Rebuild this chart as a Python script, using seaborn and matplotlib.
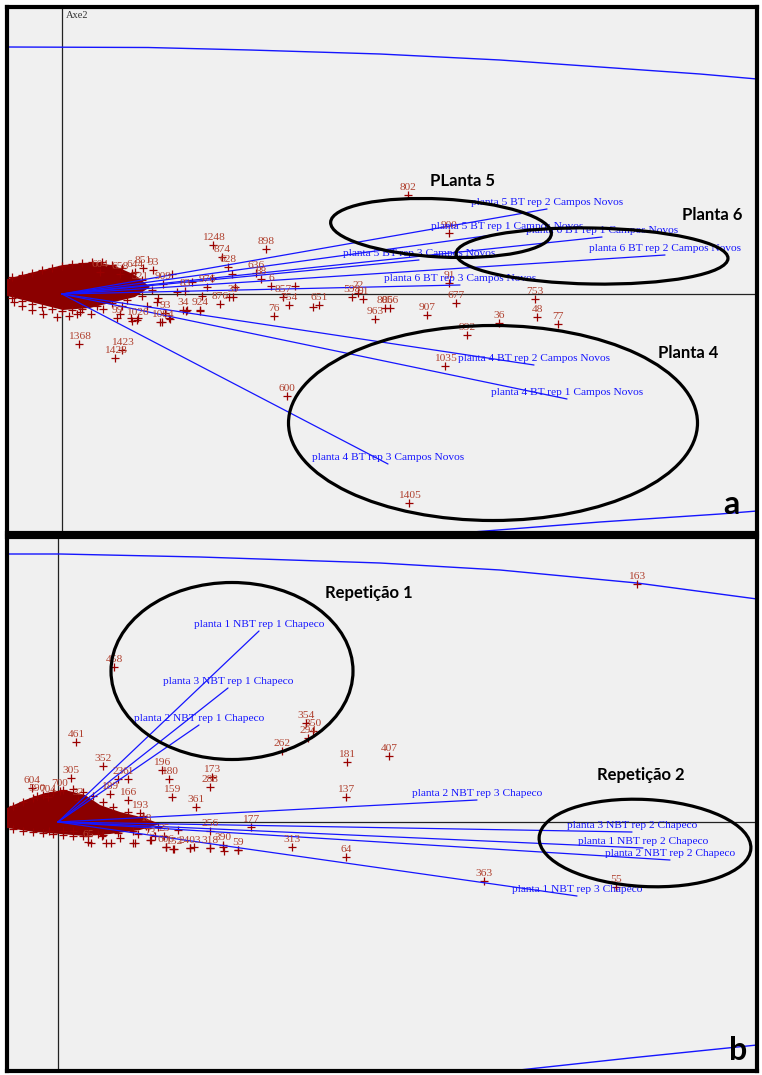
import matplotlib.pyplot as plt
import seaborn as sns
import pandas as pd
from matplotlib.patches import Ellipse

# ---------------- panel a : BT Campos Novos ----------------
a_vec_names = ["planta 5 BT rep 2 Campos Novos", "planta 5 BT rep 1 Campos Novos",
               "planta 6 BT rep 1 Campos Novos", "planta 6 BT rep 2 Campos Novos",
               "planta 5 BT rep 3 Campos Novos", "planta 6 BT rep 3 Campos Novos",
               "planta 4 BT rep 2 Campos Novos", "planta 4 BT rep 1 Campos Novos",
               "planta 4 BT rep 3 Campos Novos"]
a_vec_x = [485, 445, 540, 603, 357, 398, 472, 505, 326]
a_vec_y = [85, 61, 57, 39, 34, 9, -71, -105, -170]

a_pt_labels = ["802", "900", "1248", "874", "628", "898", "636", "88", "6", "857", "754", "76",
               "651", "598", "22", "91", "806", "856", "963", "907", "677", "91", "753", "48",
               "36", "77", "992", "1035", "600", "1405", "851", "93", "909", "1368", "1423",
               "1428", "83", "976", "39", "876", "924", "34", "93", "1026", "99", "1084",
               "604", "658", "644", "321"]
a_pt_x = [346, 387, 151, 160, 166, 204, 194, 199, 209, 221, 227, 212, 257, 290, 296, 301,
          323, 328, 313, 365, 394, 387, 473, 475, 437, 496, 405, 383, 225, 347, 81, 91,
          101, 17, 60, 53, 123, 145, 171, 158, 138, 121, 103, 75, 55, 100, 38, 58, 73, 78]
a_pt_y = [99, 61, 49, 37, 27, 45, 21, 15, 8, -3, -11, -22, -11, -3, 1, -5, -14, -14, -25,
          -21, -9, 11, -5, -23, -29, -30, -41, -72, -102, -209, 26, 24, 10, -50, -56, -64,
          3, 7, -3, -10, -16, -16, -19, -26, -24, -28, 22, 20, 22, 10]

a_extra_x = [41, 69, 107, 125, 167, 173, 7, 18, -5, -19, 70, 76, 98, 108, 124, 138, 15, 58,
             29, -30, -40, -48, 115, 130, 140, 150, 110, 95, 85, 60, 251, 233, 170,
             -50, -40, -30, -20, -10, 0, 10, 20, 30, 40, 50, 60, 70, 80,
             -50, -40, -30, -20, -10, 0, 10, 20, 35, 50, 65, 80, 90, 96]
a_extra_y = [-15, -24, -24, -16, -3, 7, -22, -18, -23, -20, -27, -24, -28, -25, -17, -17,
             -20, -20, -20, -16, -12, -8, 2, 12, -2, 16, 20, -8, -12, -12, -13, 8, 20,
             17, 19, 21, 24, 26, 28, 30, 31, 32, 32, 29, 26, 21, 14,
             -4, -7, -10, -13, -15, -17, -16, -15, -12, -9, -6, -2, 4, -4]

a_blob_x = [-55, -32, 1, 33, 53, 73, 88, 73, 48, 28, 1, -27, -55]
a_blob_y = [15, 21, 29, 32, 28, 19, 7, -3, -9, -14, -16, -9, -2]

a_arc_x = [-55, 86, 188, 318, 438, 538, 638, 695]
a_arc_y = [247, 246.5, 244, 240, 234, 227, 220, 215]
a_low_x = [398, 538, 658, 695]
a_low_y = [-239, -228, -220, -217]

a_groups = ["PLanta 5", "Planta 6", "Planta 4"]

# ---------------- panel b : NBT Chapeco ----------------
b_vec_names = ["planta 1 NBT rep 1 Chapeco", "planta 3 NBT rep 1 Chapeco",
               "planta 2 NBT rep 1 Chapeco", "planta 2 NBT rep 3 Chapeco",
               "planta 3 NBT rep 2 Chapeco", "planta 1 NBT rep 2 Chapeco",
               "planta 2 NBT rep 2 Chapeco", "planta 1 NBT rep 3 Chapeco"]
b_vec_x = [201, 170, 141, 419, 574, 585, 612, 519]
b_vec_y = [191, 134, 97, 22, -10, -26, -38, -74]

b_pt_labels = ["163", "458", "461", "352", "305", "23", "61", "196", "180", "173", "288",
               "159", "361", "262", "354", "350", "294", "181", "407", "137", "177", "256",
               "313", "64", "363", "55", "604", "590", "704", "700", "32", "189", "166",
               "193", "65", "73", "606", "152", "2403", "318", "390", "59", "18", "25"]
b_pt_x = [579, 56, 18, 45, 13, 60, 70, 104, 111, 154, 152, 114, 138, 224, 248, 255, 250,
          289, 331, 288, 193, 152, 234, 288, 426, 558, -26, -21, -10, 2, 20, 52, 70, 82,
          30, 92, 108, 116, 132, 152, 165, 180, 88, 106]
b_pt_y = [238, 155, 80, 56, 44, 43, 43, 52, 43, 45, 35, 25, 15, 71, 99, 91, 84, 60, 66,
          25, -5, -9, -25, -35, -59, -65, 34, 26, 25, 31, 22, 28, 22, 9, -20, -18, -25,
          -27, -26, -26, -23, -28, -4, -14]

b_extra_x = [15, 33, 48, 53, 75, 77, 108, 115, 132, 136, 152, 165, 166, 180, 93, 97, 44,
             -9, 5, 62, 80, 120, 100, 40, 25,
             -45, -35, -25, -15, -5, 5, 15, 25, 35, 45, 55, 70, 85,
             -45, -35, -25, -15, -5, 5, 15, 30, 45, 60, 75, 90]
b_extra_y = [-9, -21, -21, -21, -21, -21, -25, -27, -26, -25, -26, -25, -29, -28, -18, -14,
             -14, -9, -9, -16, -12, -8, -5, -12, -14,
             16, 20, 24, 27, 30, 32, 33, 30, 26, 20, 15, 10, 6,
             -7, -9, -10, -11, -12, -13, -14, -14, -13, -11, -9, -6]

b_blob_x = [-51, -33, -13, 7, 27, 42, 62, 87, 102, 82, 52, 27, 2, -23, -51]
b_blob_y = [14, 22, 29, 32, 27, 17, 10, 4, -2, -8, -12, -14, -12, -10, -6]

b_arc_x = [-51, 2, 142, 322, 442, 579, 699]
b_arc_y = [268, 268, 265, 259, 252, 239, 223]
b_low_x = [443, 572, 699]
b_low_y = [-250, -236, -223]

b_groups = ["Repetição 1", "Repetição 2"]

# ---------------- drawing ----------------
sns.set_style("white", {"axes.facecolor": "#f0f0f0"})
plt.rcParams["font.family"] = ["Liberation Serif", "DejaVu Serif"]

NUM_C = "#b0402e"
MARK_C = "#990000"
BLUE = "#1515ff"

fig = plt.figure(figsize=(7.62, 10.75), dpi=100)
W, H = 762, 1075
ax_a = fig.add_axes([7 / W, 1 - 533 / H, 750 / W, 526 / H])
ax_b = fig.add_axes([7 / W, 1 - 1071 / H, 750 / W, 534 / H])


def draw_panel(ax, xlim, ylim, blob_x, blob_y, arc_x, arc_y, low_x, low_y,
               vec_names, vec_x, vec_y, pt_labels, pt_x, pt_y, extra_x, extra_y):
    ax.set_xlim(*xlim)
    ax.set_ylim(*ylim)
    ax.set_xticks([])
    ax.set_yticks([])
    for s in ax.spines.values():
        s.set_linewidth(3)
        s.set_color("black")
    ax.axhline(0, color="#222222", lw=0.9, zorder=1)
    ax.axvline(0, color="#222222", lw=0.9, zorder=1)

    # big correlation-circle arcs
    ax.plot(arc_x, arc_y, color=BLUE, lw=1.0, zorder=2)
    ax.plot(low_x, low_y, color=BLUE, lw=1.0, zorder=2)

    # dense cloud of individuals
    ax.fill(blob_x, blob_y, color="#8b0000", lw=0, zorder=3)
    pts = pd.DataFrame({"x": list(pt_x) + list(extra_x),
                        "y": list(pt_y) + list(extra_y)})
    sns.scatterplot(data=pts, x="x", y="y", marker="+", s=30, color=MARK_C,
                    linewidth=0.9, ax=ax, legend=False, zorder=4)
    for lab, x, y in zip(pt_labels, pt_x, pt_y):
        ax.annotate(lab, (x, y), xytext=(0, 2.5), textcoords="offset points",
                    ha="center", va="bottom", fontsize=8.2, color=NUM_C, zorder=5)

    # variable vectors
    for name, x, y in zip(vec_names, vec_x, vec_y):
        ax.plot([0, x], [0, y], color=BLUE, lw=0.9, zorder=4)
        ax.annotate(name, (x, y), xytext=(0, 1.5), textcoords="offset points",
                    ha="center", va="bottom", fontsize=8.2, color=BLUE, zorder=6)


draw_panel(ax_a, (-55, 695), (-239, 287), a_blob_x, a_blob_y, a_arc_x, a_arc_y,
           a_low_x, a_low_y, a_vec_names, a_vec_x, a_vec_y,
           a_pt_labels, a_pt_x, a_pt_y, a_extra_x, a_extra_y)
draw_panel(ax_b, (-51, 699), (-249, 285), b_blob_x, b_blob_y, b_arc_x, b_arc_y,
           b_low_x, b_low_y, b_vec_names, b_vec_x, b_vec_y,
           b_pt_labels, b_pt_x, b_pt_y, b_extra_x, b_extra_y)

ax_a.text(4, 279, "Axe2", fontsize=7.5, color="#333333", va="center", ha="left")

# group ellipses and headings
ell_kw = dict(fill=False, ec="black", lw=2.3, zorder=7)
ax_a.add_patch(Ellipse((379, 66), 221, 58, angle=-3, **ell_kw))
ax_a.add_patch(Ellipse((530, 38), 272, 56, angle=-1, **ell_kw))
ax_a.add_patch(Ellipse((431, -129), 409, 195, angle=0, **ell_kw))
ax_b.add_patch(Ellipse((174, 151), 242, 177, angle=0, **ell_kw))
ax_b.add_patch(Ellipse((587, -21), 212, 87, angle=-3, **ell_kw))

head_kw = dict(fontsize=12, fontweight="bold", family="Lato", ha="center",
               va="center", color="black", zorder=8)
for txt, x, y in zip(a_groups, [400, 650, 626], [113, 79, -59]):
    ax_a.text(x, y, txt, **head_kw)
for txt, x, y in zip(b_groups, [311, 583], [229, 47]):
    ax_b.text(x, y, txt, **head_kw)

ax_a.text(669, -210, "a", fontsize=23, fontweight="bold", family="Lato",
          color="black", ha="center", va="center", zorder=8)
ax_b.text(680, -228, "b", fontsize=23, fontweight="bold", family="Lato",
          color="black", ha="center", va="center", zorder=8)

fig.savefig("out.png", dpi=100, facecolor="white")
